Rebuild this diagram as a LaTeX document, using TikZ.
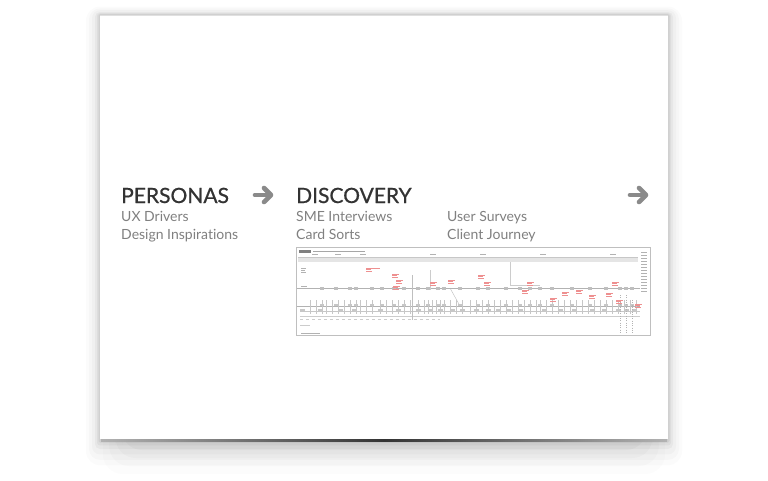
\documentclass[tikz,border=0pt]{standalone}
\usepackage{fontspec}
\setmainfont[Ligatures=NoCommon]{Lato}
\newfontfamily\titlefont[FakeBold=0.7]{Lato}
\usetikzlibrary{calc}
\definecolor{ttl}{HTML}{333333}
\definecolor{sub}{HTML}{808080}
\definecolor{arr}{HTML}{8A8A8A}
\definecolor{thred}{HTML}{EE9090}
\tikzset{
  title/.style={anchor=base west, text=ttl, inner sep=0pt, font=\titlefont\fontsize{21}{21}\selectfont},
  subtxt/.style={anchor=base west, text=sub, inner sep=0pt, font=\fontsize{14}{14}\selectfont},
  bigarrow/.style={draw=arr, line width=4.6pt, line cap=round, line join=round},
  thin/.style={draw=black!30, line width=0.3pt},
  redmark/.style={draw=thred, line width=0.4pt},
}
\begin{document}
\begin{tikzpicture}[x=1pt,y=-1pt]
\useasboundingbox (0,0) rectangle (768,480);
\fill[white] (0,0) rectangle (768,480);
% soft shadow
\foreach \i/\o in {14/0.015,11/0.02,8/0.025,5/0.035,3/0.045,1.5/0.06}{
  \fill[black,opacity=\o,rounded corners=\i pt] (100-\i,15-\i*0.6) rectangle (668+\i,440+\i*1.8);
}
\foreach \i/\o in {34/0.012,26/0.016,18/0.02,10/0.025}{
  \fill[black,opacity=\o,rounded corners=20pt] (130-\i*0.8,425) rectangle (638+\i*0.8,440+\i);
}
\shade[left color=black!30, right color=black!30, middle color=black!80] (101,437.5) rectangle (667,441.5);
% card
\fill[white] (100,15) rectangle (668,439);
\draw[black!12,line width=0.5pt] (100,15) -- (668,15);
% titles
\node[title] (per) at (121,203) {PERSONAS};
\node[subtxt] (ux) at (121,221) {UX Drivers};
\node[subtxt] (di) at (121,239) {Design Inspirations};
\node[title] (dis) at (296,203) {DISCOVERY};
\node[subtxt] (sme) at (296,221) {SME Interviews};
\node[subtxt] (cs) at (296,239) {Card Sorts};
\node[subtxt] (us) at (447,221) {User Surveys};
\node[subtxt] (cj) at (447,239) {Client Journey};
% arrows
\draw[bigarrow] (255,195) -- (270,195);
\draw[bigarrow] (264,188) -- (271,195) -- (264,202);
\draw[bigarrow] (630,195) -- (645,195);
\draw[bigarrow] (639,188) -- (646,195) -- (639,202);
% thumbnail
\draw[black!25,line width=0.6pt,fill=white] (296,247) rectangle (650,335);
\fill[black!50] (299,250) rectangle (311,253);
\draw[black!35,line width=0.6pt] (313,251.5) -- (365,251.5);
\fill[black!10] (298,257) rectangle (638,262);
\draw[black!22,line width=0.3pt] (298,257) -- (638,257);
\foreach \x in {312,335,360,430,480,540,610}{ \draw[thin] (\x,254.5) -- (\x+6,254.5); }
% side legend
\foreach \y in {252,255,258,261,264,267,270,273,276,279,282,285,288,291}{ \draw[thin] (641,\y) -- (647,\y); }
% main timeline
\draw[thin] (297,288) -- (640,288);
\draw[thin] (297,306) -- (640,306);
\draw[black!22,line width=0.3pt] (300,311) -- (640,311);
\draw[black!20,line width=0.3pt] (300,316) -- (640,316);
\draw[black!20,line width=0.3pt,dashed] (300,319) -- (440,319);
% slope
\draw[thin] (450,288) -- (460,306);
% vertical ticks
\foreach \x in {310,316,322,326,332,338,344,350,356,360,366,372,380,386,392,398,404,410,418,424,428,432,436,440,444,450,456,462,470,476,482,488,494,500,506,512,518,524,530,536,540,546,552,558,564,570,576,582,588,594,600,606,612,618,624,630,636}{
  \draw[black!22,line width=0.3pt] (\x,300) -- (\x,314);
}
\foreach \x in {322,336,350,356,372,382,394,404,418,428,438,444,460,478,488,506,520,530,540,552,572,590,606,620,626,632}{
  \fill[black!25] (\x-2,286.5) rectangle (\x+2,289.5);
  \fill[black!22] (\x-2,304) rectangle (\x+2,306);
}
\foreach \x in {302,320,340,354,380,398,418,430,440,452,462,476,488,498,508,520,544,560,574,592,604,618,626,634}{
  \fill[black!22] (\x-2.5,309) rectangle (\x+2.5,311.5);
}
% dotted long lines
\draw[black!30,line width=0.3pt,dotted] (620,295) -- (620,333);
\draw[black!30,line width=0.3pt,dotted] (626,295) -- (626,333);
\draw[black!30,line width=0.3pt,dotted] (632,300) -- (632,333);
\draw[black!25,line width=0.3pt] (412,275) -- (412,320);
\draw[black!20,line width=0.3pt] (430,270) -- (430,290);
\draw[black!20,line width=0.3pt] (510,262) -- (510,285) -- (540,285);
\draw[black!20,line width=0.3pt] (300,325) -- (310,325);
% red notes
\foreach \x/\y in {366/268, 392/274, 396/280, 393/286, 430/282, 448/280, 478/275, 484/282, 522/290, 527/282, 550/298, 562/292, 576/290, 589/295, 606/293, 616/300, 635/304, 612/282}{
  \draw[redmark] (\x,\y) -- (\x+7,\y);
  \draw[redmark] (\x,\y+1.6) -- (\x+5,\y+1.6);
  \draw[redmark] (\x,\y+3.2) -- (\x+6,\y+3.2);
}
\draw[redmark] (366,268) -- (380,268);
\draw[thin] (301,268) -- (306,268);
\draw[thin] (301,270) -- (305,270);
\draw[thin] (301,272) -- (306,272);
\draw[thin] (301,286) -- (307,286);
\draw[thin] (301,306) -- (306,306);
\draw[thin] (301,333) -- (320,333);
\end{tikzpicture}
\end{document}
